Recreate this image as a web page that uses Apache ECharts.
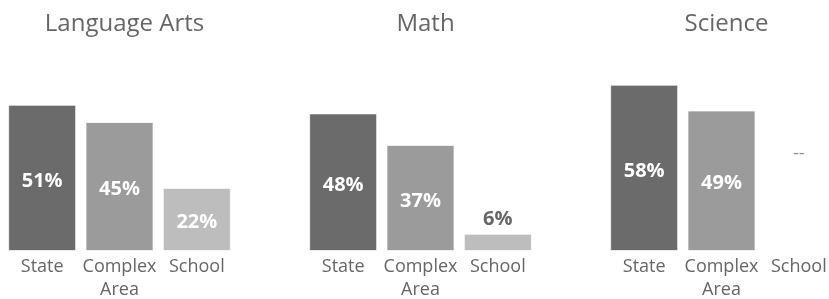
<!DOCTYPE html>
<html>
<head>
<meta charset="utf-8">
<script src="https://cdn.jsdelivr.net/npm/echarts@6/dist/echarts.min.js"></script>
<style>
  html, body { margin: 0; padding: 0; background: #fff; }
  #chart { width: 829px; height: 299px; }
</style>
</head>
<body>
<div id="chart"></div>
<script>
  // data
  var subjects = ['Language Arts', 'Math', 'Science'];
  var groups = ['State', 'Complex\nArea', 'School'];
  var stateValues = [51, 48, 58];
  var complexValues = [45, 37, 49];
  var schoolValues = [22, 6, null];
  var missingLevel = 34; // where the "--" sits when a value is missing

  var groupColors = ['#6b6b6b', '#9b9b9b', '#bdbdbd'];
  var textColor = '#666';
  var fontFamily = '"Open Sans", "Noto Sans", sans-serif';

  var panelLeft = 3.5, panelStep = 301, panelWidth = 232;

  var titles = [], grids = [], xAxes = [], yAxes = [], series = [];

  subjects.forEach(function(name, i) {
    var left = panelLeft + panelStep * i;
    titles.push({
      text: name,
      left: left + panelWidth / 2,
      top: 7,
      textAlign: 'center',
      textStyle: { color: textColor, fontSize: 24, fontWeight: 'normal', fontFamily: fontFamily }
    });
    // no auto shrinking: the last panel runs a little past the right edge
    grids.push({ left: left, width: panelWidth, top: 79, bottom: 48, outerBoundsMode: 'none', containLabel: false });
    xAxes.push({
      type: 'category',
      gridIndex: i,
      data: groups,
      axisLine: { show: false },
      axisTick: { show: false },
      axisLabel: {
        interval: 0,
        margin: 4,
        color: textColor,
        fontSize: 18,
        lineHeight: 23,
        fontFamily: fontFamily
      }
    });
    yAxes.push({ type: 'value', gridIndex: i, min: 0, max: 60, show: false });

    var vals = [stateValues[i], complexValues[i], schoolValues[i]];
    series.push({
      type: 'bar',
      xAxisIndex: i,
      yAxisIndex: i,
      barWidth: 68,
      data: vals.map(function(v, j) {
        var small = v !== null && v < 10;
        return {
          value: v,
          itemStyle: { color: groupColors[j], borderColor: 'rgba(255,255,255,0.7)', borderWidth: 1 },
          label: {
            show: v !== null,
            position: small ? 'top' : 'inside',
            offset: small ? [0, 0] : [0, 3],
            color: small ? textColor : '#fff',
            fontSize: 20,
            fontWeight: 'bold',
            fontFamily: fontFamily,
            formatter: '{c}%'
          }
        };
      })
    });
    // "--" marker for missing values
    series.push({
      type: 'scatter',
      xAxisIndex: i,
      yAxisIndex: i,
      symbolSize: 0,
      silent: true,
      data: vals.map(function(v, j) {
        return v === null ? [j, missingLevel] : null;
      }).filter(function(d) { return d; }),
      label: {
        show: true,
        position: 'inside',
        formatter: '--',
        color: '#777',
        fontSize: 18,
        fontFamily: fontFamily
      }
    });
  });

  var myChart = echarts.init(document.getElementById('chart'));
  myChart.setOption({
    animation: false,
    backgroundColor: '#fff',
    title: titles,
    grid: grids,
    xAxis: xAxes,
    yAxis: yAxes,
    series: series
  });
</script>
</body>
</html>
